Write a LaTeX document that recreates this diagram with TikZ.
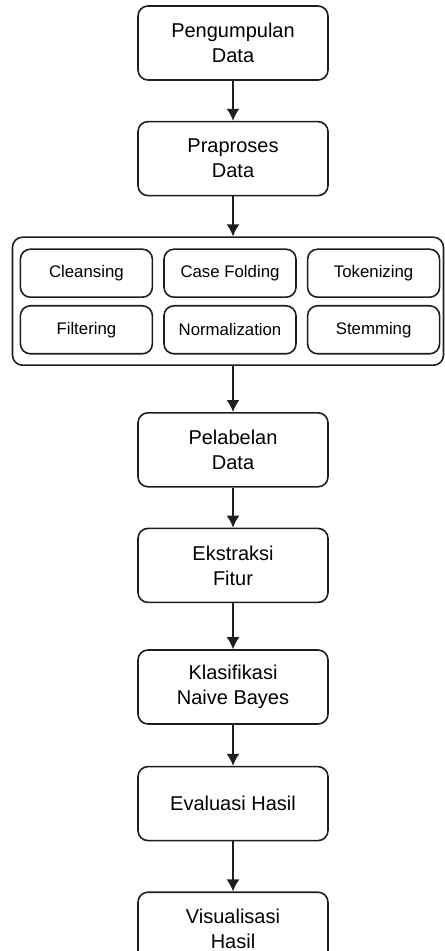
\documentclass[tikz,border=0pt]{standalone}
\usepackage{fontspec}
\setmainfont{Liberation Sans}
\usepackage{tikz}
\usepackage{xcolor}
\usetikzlibrary{arrows.meta,positioning}
\definecolor{lineblack}{RGB}{30,30,30}

\begin{document}
\begin{tikzpicture}[node distance=20pt,
        box/.style={rectangle,rounded corners=5pt,draw=lineblack,line width=0.8pt,
          minimum width=95pt,minimum height=37pt,align=center,
          font=\fontsize{10}{12.5}\selectfont},
        stepbox/.style={rectangle,rounded corners=5pt,draw=lineblack,line width=0.8pt,
          minimum width=66pt,minimum height=24pt,align=center,
          font=\fontsize{8.4}{10}\selectfont},
        groupbox/.style={rectangle,rounded corners=5pt,draw=lineblack,line width=0.8pt,
          minimum width=215.5pt,minimum height=64pt},
        arrow/.style={-{Latex[length=6pt,width=6.5pt]},line width=0.8pt,draw=lineblack}]
        \useasboundingbox (0,0) rectangle (222pt,-475.5pt);
        \node[box] (kumpul) at (116.5pt,-21.5pt) {Pengumpulan\\Data};
        \node[box,below=of kumpul] (prapro) {Praproses\\Data};
        \node[groupbox,below=of prapro,xshift=-2.5pt] (grup) {};
        \node[stepbox,below=6pt of grup.north,xshift=1pt] (casefold) {Case Folding};
        \node[stepbox,left=5pt of casefold] (cleansing) {Cleansing};
        \node[stepbox,right=5pt of casefold] (tokenize) {Tokenizing};
        \node[stepbox,below=3.5pt of cleansing] (filter) {Filtering};
        \node[stepbox,below=3.5pt of casefold] (normal) {Normalization};
        \node[stepbox,below=3.5pt of tokenize] (stem) {Stemming};
        \node[box,below=23pt of grup,xshift=2.5pt] (label) {Pelabelan\\Data};
        \node[box,below=of label] (fitur) {Ekstraksi\\Fitur};
        \node[box,below=23pt of fitur] (klasif) {Klasifikasi\\Naive Bayes};
        \node[box,below=20.5pt of klasif] (eval) {Evaluasi Hasil};
        \node[box,below=25pt of eval] (visual) {Visualisasi\\Hasil};
        \draw[arrow] (kumpul) -- (prapro);
        \draw[arrow] (prapro) -- (prapro.south |- grup.north);
        \draw[arrow] (label.north |- grup.south) -- (label);
        \draw[arrow] (label) -- (fitur);
        \draw[arrow] (fitur) -- (klasif);
        \draw[arrow] (klasif) -- (eval);
        \draw[arrow] (eval) -- (visual);
      \end{tikzpicture}
\end{document}
